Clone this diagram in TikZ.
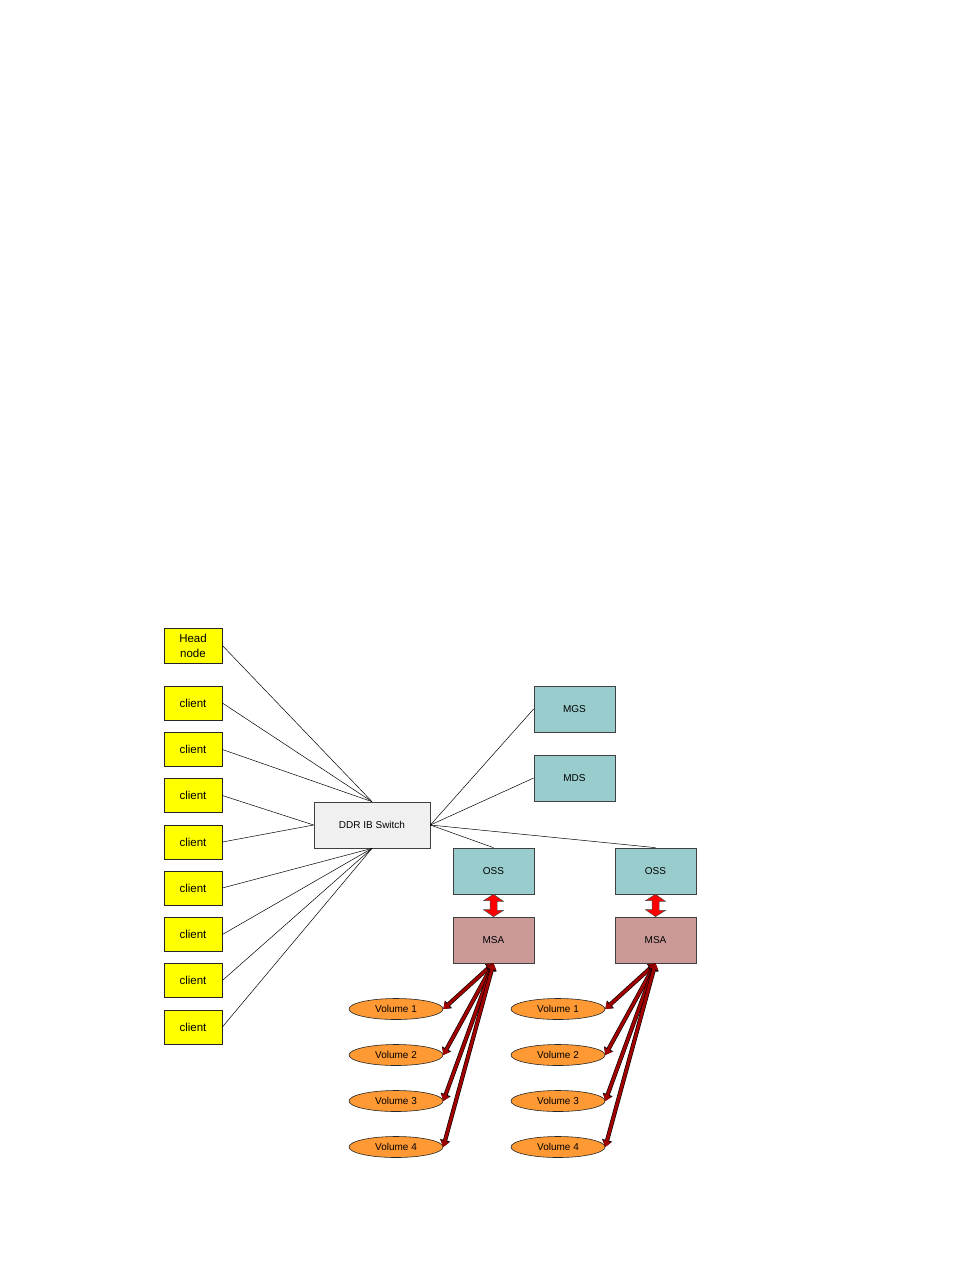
\documentclass[tikz,border=0pt]{standalone}
\usepackage{fontspec}
\setmainfont{Liberation Sans}
\usetikzlibrary{arrows.meta,calc,shapes.geometric}
\definecolor{ylw}{HTML}{FFFF00}
\definecolor{swgray}{HTML}{F0F0F0}
\definecolor{teal2}{HTML}{99CCCC}
\definecolor{rose}{HTML}{CC9999}
\definecolor{orng}{HTML}{FF9933}
\definecolor{volred}{HTML}{A00000}
\begin{document}
\begin{tikzpicture}[x=1pt,y=-1pt,
  ybox/.style={draw=black!85, line width=0.7pt, fill=ylw, minimum width=58, minimum height=34, inner sep=0, font=\fontsize{11.5}{15}\selectfont, align=center},
  sbox/.style={draw=black!75, line width=0.7pt, minimum width=81, minimum height=46, inner sep=0, font=\fontsize{10}{12}\selectfont},
  vol/.style={ellipse, draw=black!85, line width=0.6pt, fill=orng, minimum width=94, minimum height=21, inner sep=0, font=\fontsize{10}{12}\selectfont},
  link/.style={draw=black, line width=0.5pt},
  varrow/.style={draw=volred, line width=3pt, {Triangle[length=6pt,width=8.5pt]}-{Triangle[length=6pt,width=8.5pt]},
    preaction={draw=black, line width=4.2pt, {Triangle[length=7pt,width=10pt]}-{Triangle[length=7pt,width=10pt]}}},
  fat/.style={draw=black!70, line width=0.5pt, fill=red}
]
\path[use as bounding box] (0,0) rectangle (954,1270);

% left column
\node[ybox, minimum height=35] (head) at (193,645.5) {Head\\node};
\node[ybox] (c1) at (193,703) {client};
\node[ybox] (c2) at (193,749.5) {client};
\node[ybox] (c3) at (193,795.5) {client};
\node[ybox] (c4) at (193,842) {client};
\node[ybox] (c5) at (193,888) {client};
\node[ybox] (c6) at (193,934.5) {client};
\node[ybox] (c7) at (193,980.5) {client};
\node[ybox] (c8) at (193,1027) {client};

% switch
\node[sbox, fill=swgray, minimum width=116] (sw) at (372,825) {DDR IB Switch};

% servers
\node[sbox, fill=teal2] (mgs) at (574.5,709) {MGS};
\node[sbox, fill=teal2] (mds) at (574.5,778) {MDS};
\node[sbox, fill=teal2] (oss1) at (493.5,871) {OSS};
\node[sbox, fill=rose] (msa1) at (493.5,940) {MSA};
\node[sbox, fill=teal2] (oss2) at (655.5,871) {OSS};
\node[sbox, fill=rose] (msa2) at (655.5,940) {MSA};

% volumes
\foreach \i/\y in {1/1009,2/1055,3/1101,4/1147}{
  \node[vol] (va\i) at (396,\y) {Volume \i};
  \node[vol] (vb\i) at (558,\y) {Volume \i};
}

% links to switch
\draw[link] (head.east) -- (sw.north);
\draw[link] (c1.east) -- (sw.north);
\draw[link] (c2.east) -- (sw.north);
\draw[link] (c3.east) -- (sw.west);
\draw[link] (c4.east) -- (sw.west);
\draw[link] (c5.east) -- (sw.south);
\draw[link] (c6.east) -- (sw.south);
\draw[link] (c7.east) -- (sw.south);
\draw[link] (c8.east) -- (sw.south);
\draw[link] (sw.east) -- (mgs.west);
\draw[link] (sw.east) -- (mds.west);
\draw[link] (sw.east) -- (oss1.north);
\draw[link] (sw.east) -- (oss2.north);

% fat red arrows OSS <-> MSA
\foreach \o/\m in {oss1/msa1,oss2/msa2}{
  \draw[fat] (\o.south) -- ++(10,7) -- ++(-6.5,0) -- ++(0,9) -- ++(6.5,0) -- (\m.north)
     -- ++(-10,-7) -- ++(6.5,0) -- ++(0,-9) -- ++(-6.5,0) -- cycle;
}

% volume arrows
\foreach \i in {1,2,3,4}{
  \draw[varrow] (msa1.south) -- (va\i.east);
  \draw[varrow] (msa2.south) -- (vb\i.east);
}
\end{tikzpicture}
\end{document}
